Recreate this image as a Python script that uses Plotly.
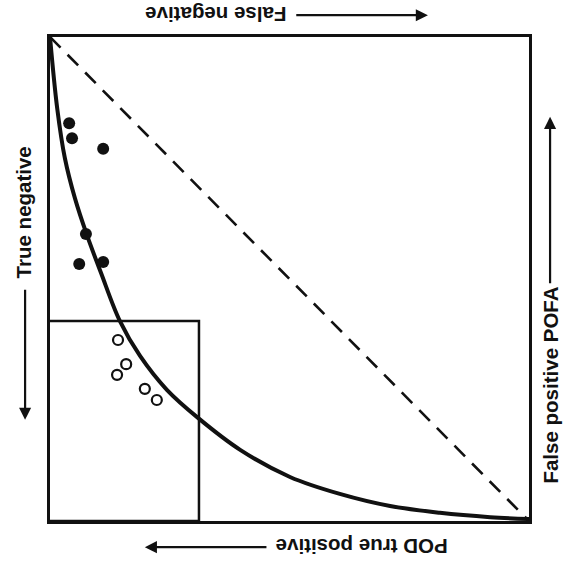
import plotly.graph_objects as go

# ---- data (unit square, x left->right, y bottom->top) ----
curve_x = [0.0, 0.015, 0.031, 0.052, 0.077, 0.106, 0.146, 0.188, 0.244, 0.309,
           0.397, 0.501, 0.605, 0.710, 0.814, 0.919, 1.0]
curve_y = [1.0, 0.853, 0.750, 0.667, 0.591, 0.514, 0.413, 0.341, 0.271, 0.213,
           0.147, 0.091, 0.056, 0.031, 0.017, 0.008, 0.004]

diag_x = [0.0, 1.0]
diag_y = [1.0, 0.0]

filled_x = [0.040, 0.046, 0.111, 0.075, 0.061, 0.111]
filled_y = [0.822, 0.791, 0.769, 0.593, 0.531, 0.535]

open_x = [0.142, 0.159, 0.140, 0.198, 0.223]
open_y = [0.374, 0.324, 0.302, 0.273, 0.250]

rect_x = [0.0, 0.311, 0.311, 0.0]
rect_y = [0.413, 0.413, 0.0, 0.0]

label_top = "False negative"
label_bottom = "POD true positive"
label_left = "True negative"
label_right = "False positive POFA"

INK = "#111111"
FONT = dict(family="Liberation Sans, Arial, sans-serif", size=20.5, color=INK)

W, H = 564, 567
ML, MR, MT, MB = 50, 35, 37, 46
PW, PH = W - ML - MR, H - MT - MB

fig = go.Figure()

fig.add_trace(go.Scatter(x=rect_x, y=rect_y, mode="lines",
                         line=dict(color=INK, width=2.5), cliponaxis=False,
                         hoverinfo="skip"))
fig.add_trace(go.Scatter(x=diag_x, y=diag_y, mode="lines",
                         line=dict(color=INK, width=2.6, dash="15px,10px"),
                         cliponaxis=False, hoverinfo="skip"))
fig.add_trace(go.Scatter(x=curve_x, y=curve_y, mode="lines",
                         line=dict(color=INK, width=4, shape="spline", smoothing=1.0),
                         cliponaxis=False, hoverinfo="skip"))
fig.add_trace(go.Scatter(x=filled_x, y=filled_y, mode="markers",
                         marker=dict(symbol="circle", size=12, color=INK),
                         cliponaxis=False))
fig.add_trace(go.Scatter(x=open_x, y=open_y, mode="markers",
                         marker=dict(symbol="circle-open", size=10, color=INK,
                                     line=dict(width=2.2, color=INK)),
                         cliponaxis=False))

ann = []
# labels (text); paper coords equal data coords since ranges are [0, 1]
def label(x, y, txt, angle):
    return dict(x=x, y=y, text="<b>%s</b>" % txt, textangle=angle,
                showarrow=False, font=FONT, xref="paper", yref="paper",
                xanchor="center", yanchor="middle")

ann.append(label(0.346, 1.045, label_top, 180))
ann.append(label(0.651, -0.054, label_bottom, 180))
ann.append(label(-0.056, 0.638, label_left, -90))
ann.append(label(1.044, 0.280, label_right, -90))

# arrows (head at x,y; tail given in plot fractions, converted to pixel offsets)
def arrow(hx, hy, tx, ty):
    return dict(x=hx, y=hy, ax=(tx - hx) * PW, ay=-(ty - hy) * PH,
                xref="paper", yref="paper", axref="pixel", ayref="pixel",
                text="", showarrow=True, arrowhead=2, arrowsize=1.1,
                arrowwidth=2.2, arrowcolor=INK)

ann.append(arrow(0.789, 1.045, 0.511, 1.045))   # top, pointing right
ann.append(arrow(0.198, -0.054, 0.455, -0.054)) # bottom, pointing left
ann.append(arrow(-0.052, 0.209, -0.052, 0.481)) # left, pointing down
ann.append(arrow(1.044, 0.835, 1.044, 0.488))   # right, pointing up

fig.update_layout(
    width=W, height=H,
    margin=dict(l=ML, r=MR, t=MT, b=MB),
    paper_bgcolor="white", plot_bgcolor="white",
    showlegend=False,
    annotations=ann,
    xaxis=dict(range=[0, 1], showticklabels=False, ticks="", showgrid=False,
               zeroline=False, showline=True, mirror=True, linewidth=3,
               linecolor=INK, fixedrange=True),
    yaxis=dict(range=[0, 1], showticklabels=False, ticks="", showgrid=False,
               zeroline=False, showline=True, mirror=True, linewidth=3,
               linecolor=INK, fixedrange=True),
)

fig.write_html("out.html")
